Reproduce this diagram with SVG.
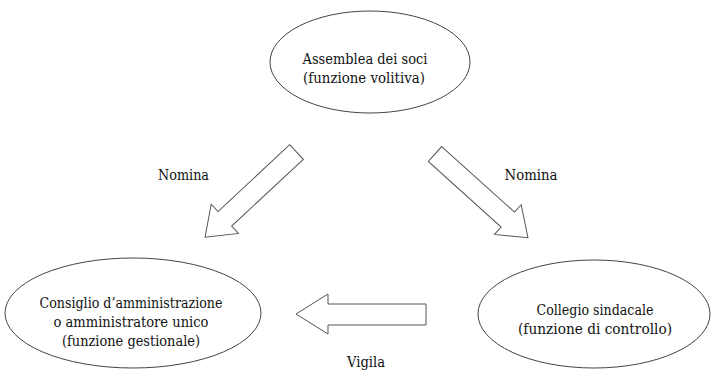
<svg xmlns="http://www.w3.org/2000/svg" width="712" height="371" viewBox="0 0 712 371">
<style>
.node{fill:#fff;stroke:#444;stroke-width:1}
.arrow{fill:#fff;stroke:#555;stroke-width:1;stroke-linejoin:miter}
.t{font-family:'DejaVu Serif Condensed','DejaVu Serif',serif;font-stretch:condensed;font-size:14.5px;fill:#111;text-anchor:middle}
</style>
<defs>
<polygon id="darrow" points="0,-10 98,-10 98,-20 125,0 98,20 98,10 0,10"/>
</defs>
<rect width="712" height="371" fill="#fff"/>
<g id="assemblea">
<ellipse class="node" cx="370" cy="62" rx="100" ry="51"/>
<text class="t" x="365" y="64" textLength="125" lengthAdjust="spacingAndGlyphs">Assemblea dei soci</text>
<text class="t" x="364" y="83" textLength="122" lengthAdjust="spacingAndGlyphs">(funzione volitiva)</text>
</g>
<g id="consiglio">
<ellipse class="node" cx="133" cy="313" rx="128" ry="55"/>
<text class="t" x="131" y="308" textLength="183" lengthAdjust="spacingAndGlyphs">Consiglio d’amministrazione</text>
<text class="t" x="131" y="327" textLength="155" lengthAdjust="spacingAndGlyphs">o amministratore unico</text>
<text class="t" x="131" y="346" textLength="138" lengthAdjust="spacingAndGlyphs">(funzione gestionale)</text>
</g>
<g id="collegio">
<ellipse class="node" cx="594" cy="314" rx="116" ry="54"/>
<text class="t" x="595" y="315" textLength="117" lengthAdjust="spacingAndGlyphs">Collegio sindacale</text>
<text class="t" x="595" y="334" textLength="154" lengthAdjust="spacingAndGlyphs">(funzione di controllo)</text>
</g>
<g id="connectors">
<use href="#darrow" class="arrow" transform="translate(296.5,152) rotate(137)"/>
<use href="#darrow" class="arrow" transform="translate(435,154) rotate(42)"/>
<polygon class="arrow" points="296,314 328,294 328,304 426,304 426,325 328,325 328,334"/>
<text class="t" x="183.5" y="180" textLength="51" lengthAdjust="spacingAndGlyphs">Nomina</text>
<text class="t" x="531" y="180" textLength="53" lengthAdjust="spacingAndGlyphs">Nomina</text>
<text class="t" x="366" y="367" textLength="38" lengthAdjust="spacingAndGlyphs">Vigila</text>
</g>
</svg>
